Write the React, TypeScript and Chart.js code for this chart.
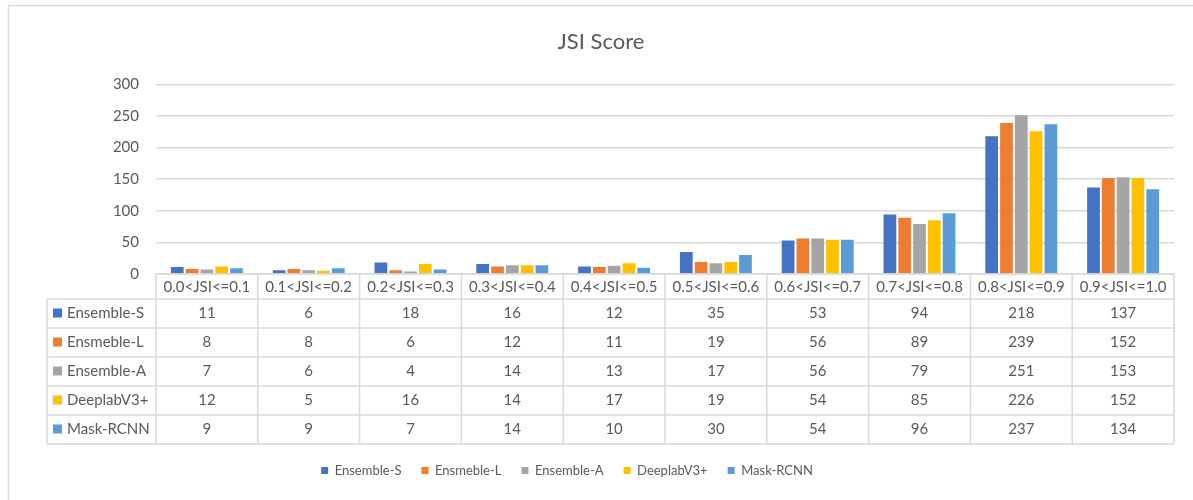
import React, { useEffect, useRef } from "react";
import { Chart, registerables } from "chart.js";

Chart.register(...registerables);

const categories = [
  "0.0<JSI<=0.1",
  "0.1<JSI<=0.2",
  "0.2<JSI<=0.3",
  "0.3<JSI<=0.4",
  "0.4<JSI<=0.5",
  "0.5<JSI<=0.6",
  "0.6<JSI<=0.7",
  "0.7<JSI<=0.8",
  "0.8<JSI<=0.9",
  "0.9<JSI<=1.0",
];
const seriesNames = ["Ensemble-S", "Ensmeble-L", "Ensemble-A", "DeeplabV3+", "Mask-RCNN"];
const ensembleS = [11, 6, 18, 16, 12, 35, 53, 94, 218, 137];
const ensmebleL = [8, 8, 6, 12, 11, 19, 56, 89, 239, 152];
const ensembleA = [7, 6, 4, 14, 13, 17, 56, 79, 251, 153];
const deeplabV3 = [12, 5, 16, 14, 17, 19, 54, 85, 226, 152];
const maskRcnn = [9, 9, 7, 14, 10, 30, 54, 96, 237, 134];
const seriesValues = [ensembleS, ensmebleL, ensembleA, deeplabV3, maskRcnn];
const seriesColors = ["#4472C4", "#ED7D31", "#A5A5A5", "#FFC000", "#5B9BD5"];
const yMin = 0;
const yMax = 300;
const yStep = 50;

const FONT = "Lato";
const TEXT = "#595959";
const LINE = "#D9D9D9";

const framePlugin = {
  id: "frame",
  beforeDraw(chart: any) {
    const ctx = chart.ctx;
    ctx.save();
    ctx.fillStyle = "#ffffff";
    ctx.fillRect(0, 0, chart.width, chart.height);
    ctx.strokeStyle = LINE;
    ctx.lineWidth = 1.5;
    ctx.beginPath();
    ctx.moveTo(8.5, chart.height);
    ctx.lineTo(8.5, 5.5);
    ctx.lineTo(chart.width, 5.5);
    ctx.stroke();
    ctx.restore();
  },
};

const legendShiftPlugin = {
  id: "legendShift",
  afterUpdate(chart: any) {
    const lg = chart.legend;
    if (lg) {
      const dx = -34;
      lg.left += dx;
      lg.right += dx;
    }
  },
};

const tablePlugin = {
  id: "dataTable",
  afterDraw(chart: any) {
    const ctx = chart.ctx;
    const { left, right, bottom } = chart.chartArea;
    const xs = chart.scales.x;
    const n = categories.length;
    const colW = (right - left) / n;
    const headerH = 25;
    const rowH = 29;
    const labelLeft = 47;
    const y0 = bottom + headerH;
    const yEnd = y0 + rowH * seriesNames.length;

    ctx.save();
    ctx.strokeStyle = LINE;
    ctx.lineWidth = 1.5;
    ctx.beginPath();
    ctx.moveTo(left, bottom);
    ctx.lineTo(right, bottom);
    for (let r = 0; r <= seriesNames.length; r++) {
      const y = y0 + r * rowH;
      ctx.moveTo(labelLeft, y);
      ctx.lineTo(right, y);
    }
    for (let i = 0; i <= n; i++) {
      const x = left + i * colW;
      ctx.moveTo(x, bottom);
      ctx.lineTo(x, yEnd);
    }
    ctx.moveTo(labelLeft, y0);
    ctx.lineTo(labelLeft, yEnd);
    ctx.stroke();

    ctx.fillStyle = TEXT;
    ctx.font = `15px ${FONT}`;
    ctx.textAlign = "center";
    ctx.textBaseline = "middle";
    categories.forEach((c, i) => {
      ctx.fillText(c, xs.getPixelForValue(i), bottom + headerH / 2 + 1);
    });
    seriesNames.forEach((name, r) => {
      const cy = y0 + r * rowH + rowH / 2;
      ctx.fillStyle = seriesColors[r];
      ctx.fillRect(labelLeft + 6, cy - 5, 9, 9);
      ctx.fillStyle = TEXT;
      ctx.textAlign = "left";
      ctx.fillText(name, labelLeft + 20, cy);
      ctx.textAlign = "center";
      seriesValues[r].forEach((v, i) => {
        ctx.fillText(String(v), xs.getPixelForValue(i), cy);
      });
    });
    ctx.restore();
  },
};

export default function App() {
  const ref = useRef<HTMLCanvasElement | null>(null);

  useEffect(() => {
    if (!ref.current) return;
    const chart = new Chart(ref.current, {
      type: "bar",
      data: {
        labels: categories,
        datasets: seriesNames.map((name, i) => ({
          label: name,
          data: seriesValues[i],
          backgroundColor: seriesColors[i],
          borderWidth: 0,
          barPercentage: 0.86,
          categoryPercentage: 0.727,
        })),
      },
      options: {
        responsive: false,
        animation: false,
        layout: { padding: { left: 28, right: 19, top: 0, bottom: 13 } },
        plugins: {
          title: {
            display: true,
            text: "JSI Score",
            color: TEXT,
            font: { family: FONT, size: 22, weight: "normal" },
            padding: { top: 29, bottom: 29 },
          },
          legend: {
            display: true,
            position: "bottom",
            labels: {
              color: TEXT,
              font: { family: FONT, size: 13 },
              boxWidth: 7,
              boxHeight: 7,
              padding: 20,
            },
          },
          tooltip: { enabled: false },
        },
        scales: {
          x: {
            ticks: { display: false },
            grid: { display: false },
            border: { display: false },
            afterFit(scale: any) {
              scale.height = 170;
            },
          },
          y: {
            min: yMin,
            max: yMax,
            ticks: {
              stepSize: yStep,
              color: TEXT,
              font: { family: FONT, size: 15 },
              padding: 17,
            },
            grid: { color: LINE, lineWidth: 1.5, drawTicks: false },
            border: { display: false },
            afterFit(scale: any) {
              scale.width = 128;
            },
          },
        },
      },
      plugins: [framePlugin, legendShiftPlugin, tablePlugin],
    });
    return () => chart.destroy();
  }, []);

  return (
    <div style={{ position: "absolute", left: 0, top: 0, width: 1193, height: 500 }}>
      <canvas ref={ref} width={1193} height={500} style={{ display: "block", width: 1193, height: 500 }} />
    </div>
  );
}
